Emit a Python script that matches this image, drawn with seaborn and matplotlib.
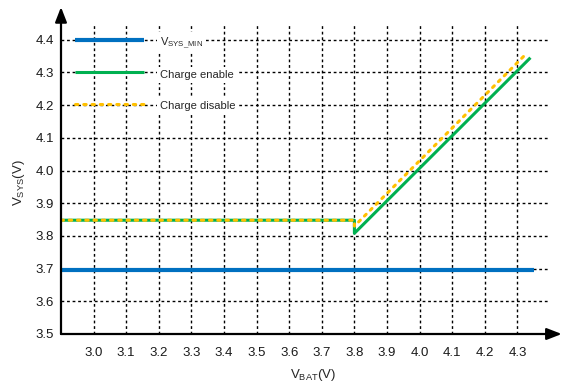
import matplotlib
matplotlib.use("Agg")
import matplotlib.pyplot as plt
import seaborn as sns
import pandas as pd

sns.set_style("white")
plt.rcParams['font.family'] = ['Liberation Sans', 'DejaVu Sans']
plt.rcParams['mathtext.fontset'] = 'custom'
plt.rcParams['mathtext.rm'] = 'Liberation Sans'

# ---- data ----
vsys_min_x = [2.9, 4.35]
vsys_min_y = [3.695, 3.695]

enable_x = [2.9, 3.8, 3.8, 4.34]
enable_y = [3.848, 3.848, 3.808, 4.345]

disable_x = [2.9, 3.8, 3.8, 4.33]
disable_y = [3.848, 3.848, 3.83, 4.36]

series_names = [r"V$_\mathregular{SYS\_MIN}$", "Charge enable", "Charge disable"]
colors = ["#0070C0", "#00B050", "#FFC000"]

x_ticks = [3.0, 3.1, 3.2, 3.3, 3.4, 3.5, 3.6, 3.7, 3.8, 3.9, 4.0, 4.1, 4.2, 4.3]
y_ticks = [3.5, 3.6, 3.7, 3.8, 3.9, 4.0, 4.1, 4.2, 4.3, 4.4]

df = pd.concat([
    pd.DataFrame({"x": vsys_min_x, "y": vsys_min_y, "s": series_names[0]}),
    pd.DataFrame({"x": enable_x, "y": enable_y, "s": series_names[1]}),
    pd.DataFrame({"x": disable_x, "y": disable_y, "s": series_names[2]}),
], ignore_index=True)

fig = plt.figure(figsize=(5.62, 3.83), dpi=100)
ax = fig.add_axes([61/562, (383-334)/383, (550-61)/562, (334-25)/383])

styles = [dict(lw=3.0, ls="-"), dict(lw=2.2, ls="-"), dict(lw=2.2, ls=(0, (0.8, 1.9)))]
for name, col, st in zip(series_names, colors, styles):
    sub = df[df["s"] == name]
    sns.lineplot(data=sub, x="x", y="y", ax=ax, color=col, lw=st["lw"], linestyle=st["ls"],
                 estimator=None, sort=False, label=name, zorder=3,
                 solid_capstyle="butt", dash_capstyle="round")

ax.set_xlim(2.9, 4.40)
ax.set_ylim(3.5, 4.445)
ax.set_xticks(x_ticks)
ax.set_xticklabels([f"{v:.1f}" for v in x_ticks])
ax.set_yticks(y_ticks)
ax.set_yticklabels([f"{v:.1f}" for v in y_ticks])
ax.tick_params(axis="both", labelsize=9.5, length=0, colors="#1a1a1a")
ax.tick_params(axis="x", pad=9)
ax.tick_params(axis="y", pad=5)

ax.grid(True, color="black", linestyle=(0, (2, 2)), linewidth=1.0)
for s in ["top", "right", "left", "bottom"]:
    ax.spines[s].set_visible(False)

# axes with arrows
ax.annotate("", xy=(0, 1.058), xytext=(0, 0), xycoords="axes fraction",
            arrowprops=dict(arrowstyle="-|>,head_length=0.9,head_width=0.35", lw=1.6, color="black",
                            shrinkA=0, shrinkB=0), annotation_clip=False)
ax.annotate("", xy=(1.024, 0), xytext=(0, 0), xycoords="axes fraction",
            arrowprops=dict(arrowstyle="-|>,head_length=0.9,head_width=0.35", lw=1.6, color="black",
                            shrinkA=0, shrinkB=0), annotation_clip=False)

ax.set_xlabel(r"V$_\mathregular{BAT}$(V)", fontsize=9.5)
ax.set_ylabel(r"V$_\mathregular{SYS}$(V)", fontsize=9.5)
ax.xaxis.set_label_coords(0.516, -0.108)
ax.yaxis.set_label_coords(-0.07, 0.489)

leg = ax.legend(loc="upper left", bbox_to_anchor=(14/489, (334-40+6)/309), frameon=False,
                fontsize=8, handlelength=6.2, handletextpad=1.45, labelspacing=1.46,
                handleheight=1.7, borderpad=0, borderaxespad=0)
for t in leg.get_texts():
    t.set_bbox(dict(facecolor="white", edgecolor="none", pad=2))
leg.set_zorder(5)

fig.savefig("out.png", dpi=100)
